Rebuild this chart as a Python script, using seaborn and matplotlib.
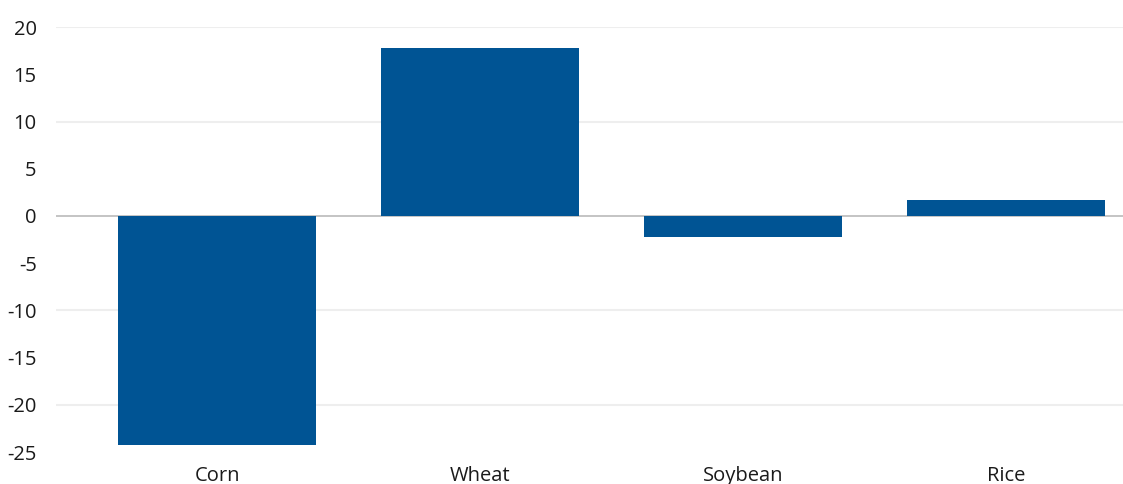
import matplotlib
matplotlib.use("Agg")
import matplotlib.pyplot as plt
import seaborn as sns
import pandas as pd

categories = ["Corn", "Wheat", "Soybean", "Rice"]
values = [-24.2, 17.8, -2.2, 1.7]
yticks = [-25, -20, -15, -10, -5, 0, 5, 10, 15, 20]
grid_values = [-20, -10, 10, 20]

sns.set_theme(style="white")
plt.rcParams['font.family'] = ['Open Sans', 'DejaVu Sans']

df = pd.DataFrame({"crop": categories, "value": values})

fig = plt.figure(figsize=(11.23, 4.84), dpi=100)
ax = fig.add_axes([0.05, 0.066, 0.95, 0.878])

for g in grid_values:
    ax.axhline(g, color="#EEEEEE", lw=1.5, zorder=0)

sns.barplot(data=df, x="crop", y="value", color="#005494", saturation=1,
            width=0.75, ax=ax, zorder=2, linewidth=0, edgecolor="none")
ax.axhline(0, color="#C4C4C4", lw=1.4, zorder=1)

ax.set_ylim(-25, 20)
ax.set_xlim(-0.612, 3.445)
ax.set_yticks(yticks)
ax.set_yticklabels([str(v) for v in yticks])
ax.set_xlabel("")
ax.set_ylabel("")
for s in ax.spines.values():
    s.set_visible(False)
ax.tick_params(axis="y", length=0, pad=14, labelsize=14.5, labelcolor="#1a1a1a")
ax.tick_params(axis="x", length=0, pad=10, labelsize=14.5, labelcolor="#1a1a1a")

fig.savefig("out.png", dpi=100)
